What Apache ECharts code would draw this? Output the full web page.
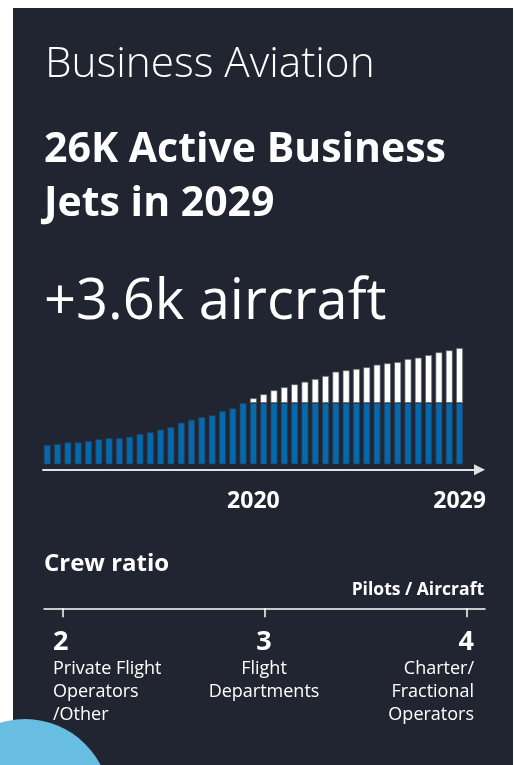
<!DOCTYPE html>
<html><head><meta charset="utf-8">
<script src="https://cdn.jsdelivr.net/npm/echarts@6/dist/echarts.min.js"></script>
<style>html,body{margin:0;padding:0;background:#fff}#c{width:514px;height:765px}</style>
</head><body><div id="c"></div><script>
// ---- data ----
const periods = ['1','2','3','4','5','6','7','8','9','10','11','12','13','14','15','16','17','18','19','20',
  '21','22','23','24','25','26','27','28','29','30','31','32','33','34','35','36','37','38','39','40','41'];
const axisYears = ['2020', '2029'];
const axisYearIndex = [20, 40];
// active business jets, thousands (existing fleet level)
const baseFleet = [19.65,19.71,19.82,19.82,19.91,20.02,20.10,20.10,20.19,20.37,
  20.48,20.65,20.82,21.11,21.30,21.48,21.59,21.87,22.05,22.40,
  22.40,22.40,22.40,22.40,22.40,22.40,22.40,22.40,22.40,22.40,
  22.40,22.40,22.40,22.40,22.40,22.40,22.40,22.40,22.40,22.40,22.40];
// added aircraft since 2020, thousands
const addedFleet = ['-','-','-','-','-','-','-','-','-','-',
  '-','-','-','-','-','-','-','-','-','-',
  0.31,0.57,0.83,1.03,1.22,1.39,1.57,1.77,2.05,2.14,
  2.23,2.34,2.51,2.60,2.68,2.88,2.97,3.14,3.32,3.45,3.60];
const crewValues = [2, 3, 4];
const crewLabels = ['Private Flight\nOperators\n/Other', 'Flight\nDepartments', 'Charter/\nFractional\nOperators'];

// ---- chart ----
const FF = "'Open Sans', sans-serif";
const chart = echarts.init(document.getElementById('c'), null, {renderer: 'canvas'});
const aligns = ['left', 'center', 'right'];
const offsets = [[-10, 0], [-1, 0], [7, 0]];

chart.setOption({
  animation: false,
  backgroundColor: '#ffffff',
  graphic: [
    {type: 'rect', z: -10, shape: {x: 13, y: 8, width: 500, height: 770}, style: {fill: '#212531'}},
    {type: 'circle', z: 100, shape: {cx: 25, cy: 804, r: 85}, style: {fill: '#68bde2'}}
  ],
  title: [
    {text: 'Business Aviation', left: 45, top: 44, padding: 0,
      textStyle: {fontFamily: FF, fontWeight: 300, fontSize: 42.3, lineHeight: 42.3, color: '#ffffff'}},
    {text: '26K Active Business\nJets in 2029', left: 44, top: 123.5, padding: 0,
      textStyle: {fontFamily: FF, fontWeight: 700, fontSize: 41, lineHeight: 54, color: '#ffffff'}},
    {text: '+3.6k aircraft', left: 44, top: 275.5, padding: 0,
      textStyle: {fontFamily: FF, fontWeight: 400, fontSize: 56, lineHeight: 56, color: '#ffffff'}},
    {text: 'Crew ratio', left: 44, top: 552.5, padding: 0,
      textStyle: {fontFamily: FF, fontWeight: 700, fontSize: 24, lineHeight: 24, color: '#ffffff'}},
    {text: 'Pilots / Aircraft', right: 30, top: 581.3, padding: 0,
      textStyle: {fontFamily: FF, fontWeight: 700, fontSize: 17.5, lineHeight: 17.5, color: '#ffffff'}}
  ],
  grid: [
    {left: 42.1, top: 348, width: 422.6, height: 116},
    {left: 43, top: 468.8, width: 436.5, height: 1},
    {left: 44, top: 600, width: 441, height: 8.3}
  ],
  xAxis: [
    {type: 'category', gridIndex: 0, data: periods,
      axisLine: {show: false}, axisTick: {show: false},
      axisLabel: {interval: 0, margin: 26, color: '#ffffff', fontFamily: FF, fontWeight: 700, fontSize: 23, lineHeight: 23,
        formatter: (v, i) => { const k = axisYearIndex.indexOf(i); return k >= 0 ? axisYears[k] : ''; }}},
    {type: 'value', gridIndex: 1, min: 0, max: 1, position: 'bottom',
      axisLine: {show: true, symbol: ['none', 'triangle'], symbolSize: [11, 11], lineStyle: {color: '#e2e2e2', width: 2}},
      axisTick: {show: false}, axisLabel: {show: false}, splitLine: {show: false}},
    {type: 'value', gridIndex: 2, min: 1.906, max: 4.089, position: 'bottom',
      axisLine: {show: true, lineStyle: {color: '#ffffff', width: 1.5}},
      axisTick: {show: true, customValues: crewValues, length: 9, lineStyle: {color: '#ffffff', width: 1.5}},
      axisLabel: {show: false}, splitLine: {show: false}}
  ],
  yAxis: [
    {type: 'value', gridIndex: 0, min: 18.4, max: 26.0, show: false},
    {type: 'value', gridIndex: 1, min: 0, max: 1, show: false},
    {type: 'value', gridIndex: 2, min: 0, max: 1, show: false}
  ],
  series: [
    {type: 'bar', name: 'Active fleet', xAxisIndex: 0, yAxisIndex: 0, stack: 'fleet', data: baseFleet,
      barWidth: 7, itemStyle: {color: '#0469ad', borderColor: 'rgba(40,60,85,0.9)', borderWidth: 0.8}, silent: true},
    {type: 'bar', name: 'Added', xAxisIndex: 0, yAxisIndex: 0, stack: 'fleet', data: addedFleet,
      barWidth: 7, itemStyle: {color: '#ffffff', borderColor: 'rgba(90,96,106,0.9)', borderWidth: 0.8}, silent: true},
    {type: 'scatter', xAxisIndex: 2, yAxisIndex: 2, symbolSize: 1, itemStyle: {color: 'transparent', opacity: 1}, silent: true,
      data: crewValues.map((v, i) => ({
        value: [v, 0],
        label: {align: aligns[i], offset: offsets[i]}
      })),
      label: {show: true, position: 'bottom', distance: 19, color: '#ffffff', fontFamily: FF,
        formatter: p => {
          const i = p.dataIndex;
          return '{n|' + crewValues[i] + '}\n' + crewLabels[i].split('\n').map(s => '{d|' + s + '}').join('\n');
        },
        rich: {
          n: {fontFamily: FF, fontWeight: 700, fontSize: 27, lineHeight: 30, color: '#ffffff'},
          d: {fontFamily: FF, fontWeight: 400, fontSize: 18, lineHeight: 23, color: '#ffffff'}
        }}}
  ]
});
</script></body></html>
